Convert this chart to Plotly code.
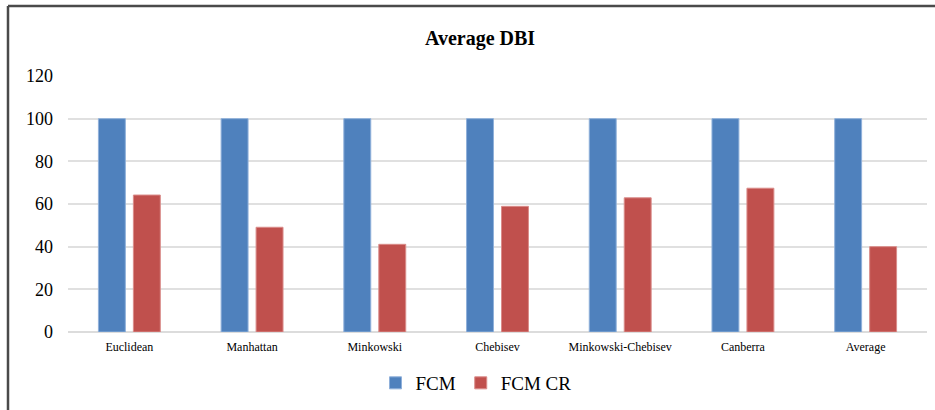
import plotly.graph_objects as go

# Distance measures compared on the x axis
categories = ["Euclidean", "Manhattan", "Minkowski", "Chebisev",
              "Minkowski-Chebisev", "Canberra", "Average"]
# Average DBI per method
fcm = [100, 100, 100, 100, 100, 100, 100]
fcm_cr = [64.2, 49.1, 41.1, 58.9, 62.9, 67.4, 40.0]
y_ticks = [0, 20, 40, 60, 80, 100, 120]

W, H = 935, 410
L, R, T, B = 68, 8, 76, 78
pw, ph = W - L - R, H - T - B

serif = "Liberation Serif, Times New Roman, serif"

fig = go.Figure()
fig.add_trace(go.Bar(
    x=categories, y=fcm, name="FCM",
    marker=dict(color="#4F81BD", line=dict(color="#8FB0DA", width=1)),
))
fig.add_trace(go.Bar(
    x=categories, y=fcm_cr, name="FCM CR",
    marker=dict(color="#C0504D", line=dict(color="#DA8C8A", width=1)),
))

# outer frame: left and top edges of the chart box
def px_x(px):
    return (px - L) / pw

def px_y(py):
    return (H - B - py) / ph

frame = dict(color="#4a4a4a", width=2.5)
fig.add_shape(type="line", xref="paper", yref="paper",
              x0=px_x(8), x1=px_x(8), y0=px_y(6), y1=px_y(412), line=frame)
fig.add_shape(type="line", xref="paper", yref="paper",
              x0=px_x(8), x1=px_x(940), y0=px_y(6), y1=px_y(6), line=frame)

fig.update_layout(
    width=W, height=H,
    margin=dict(l=L, r=R, t=T, b=B, pad=0),
    paper_bgcolor="white", plot_bgcolor="white",
    barmode="group", bargap=0.43, bargroupgap=0.23,
    title=dict(text="<b>Average DBI</b>", x=480 / W, xanchor="center",
               y=1 - 38 / H, yanchor="middle",
               font=dict(family=serif, size=20, color="#000")),
    font=dict(family=serif, color="#000"),
    showlegend=True,
    legend=dict(orientation="h", x=px_x(476), xanchor="center",
                y=-(383 - (H - B)) / ph, yanchor="middle",
                font=dict(family=serif, size=19, color="#000"),
                itemwidth=30, tracegroupgap=0, traceorder="normal"),
    xaxis=dict(showgrid=False, showline=False, ticks="",
               ticklabelstandoff=6,
               tickfont=dict(family=serif, size=12, color="#000")),
    yaxis=dict(range=[0, 120], tickvals=y_ticks, showline=False,
               gridcolor="#e0e0e0", gridwidth=2, zeroline=True,
               zerolinecolor="#dcdcdc", zerolinewidth=2,
               ticks="", ticklabelstandoff=14,
               tickfont=dict(family=serif, size=18, color="#000")),
)

fig.write_html("out.html")
